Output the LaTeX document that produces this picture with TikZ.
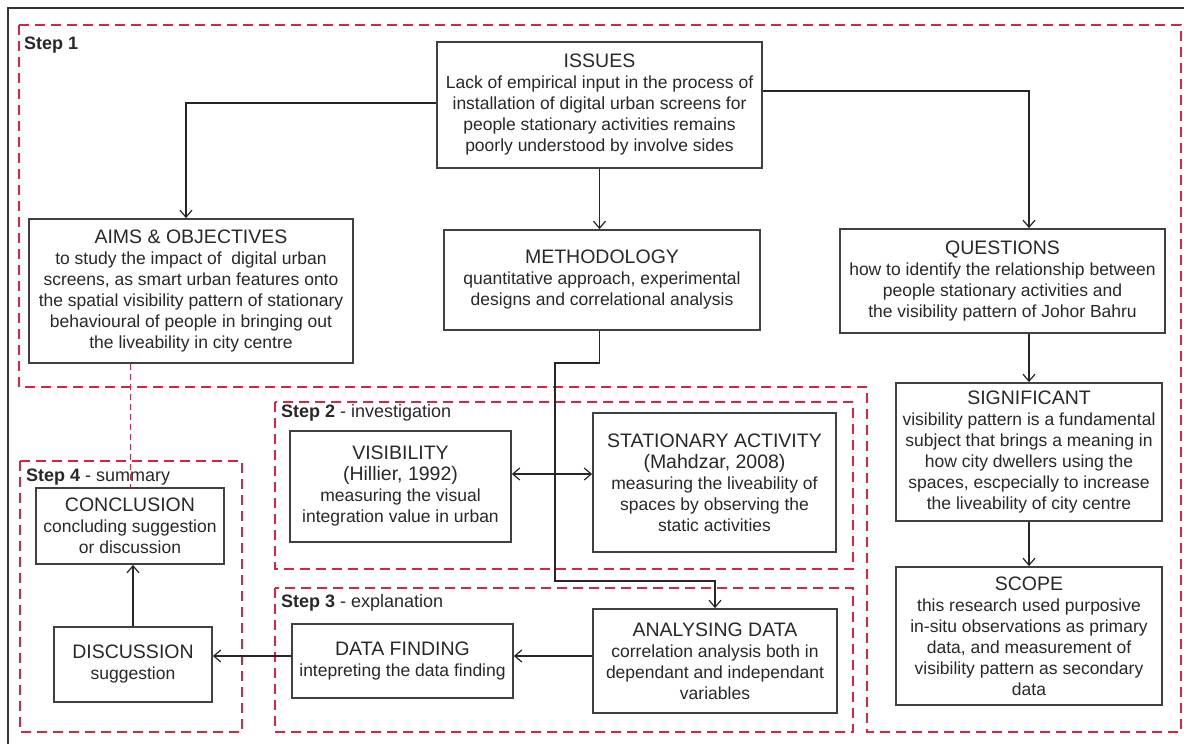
\documentclass[tikz,border=0pt]{standalone}
\usepackage{fontspec}
\setmainfont{Liberation Sans}
\usetikzlibrary{arrows.meta}
\definecolor{stepred}{RGB}{216,38,62}
\definecolor{txtgray}{RGB}{40,40,40}
\newcommand{\ttl}[1]{{\fontsize{19.5}{22}\selectfont #1}}

\begin{document}
\begin{tikzpicture}[x=1pt,y=-1pt,
  box/.style={rectangle,draw=black!75,line width=1.8pt,fill=white,align=center,inner sep=0pt,text=txtgray,font=\fontsize{17.5}{21}\selectfont},
  stepreg/.style={draw=stepred,line width=2.4pt,dash pattern=on 10pt off 6pt},
  steplab/.style={anchor=west,inner sep=0pt,text=txtgray,font=\fontsize{18}{21}\selectfont},
  arr/.style={-{Straight Barb[length=7pt,width=12pt]},line width=1.2pt,draw=black!85},
  link/.style={draw=stepred,line width=1pt,dash pattern=on 6pt off 4pt}]

  \path[use as bounding box,fill=white] (0,0) rectangle (1184,744) ;
  \draw[line width=1.5pt,black!80] (8,750) -- (8,8) -- (1190,8) ;

  % step regions
  \draw[stepreg] (19,25) -- (1181,25) -- (1181,732) -- (867,732) -- (867,387) -- (19,387) -- cycle ;
  \draw[stepreg] (275,402) rectangle (853,569) ;
  \draw[stepreg] (275,588) rectangle (853,732) ;
  \draw[stepreg] (20,461) rectangle (242,732) ;

  \node[steplab] at ( 24, 45) (lab1) {\textbf{Step 1}} ;
  \node[steplab] at (281,413) (lab2) {\textbf{Step 2} - investigation} ;
  \node[steplab] at (281,603) (lab3) {\textbf{Step 3} - explanation} ;
  \node[steplab] at ( 26,477) (lab4) {\textbf{Step 4} - summary} ;

  % boxes
  \node[box,minimum width=325pt,minimum height=126pt] at ( 599.5,105) (issues)
    {\ttl{ISSUES}\\Lack of empirical input in the process of\\installation of digital urban screens for\\people stationary activities remains\\poorly understood by involve sides} ;
  \node[box,minimum width=324pt,minimum height=144pt] at ( 191,291) (aims)
    {\ttl{AIMS \& OBJECTIVES}\\to study the impact of\ \ digital urban\\screens, as smart urban features onto\\the spatial visibility pattern of stationary\\behavioural of people in bringing out\\the liveability in city centre} ;
  \node[box,minimum width=316pt,minimum height=100pt] at ( 602,280) (method)
    {\ttl{METHODOLOGY}\\quantitative approach, experimental\\designs and correlational analysis} ;
  \node[box,minimum width=325pt,minimum height=104pt] at (1002.5,281) (questions)
    {\ttl{QUESTIONS}\\how to identify the relationship between\\people stationary activities and\\the visibility pattern of Johor Bahru} ;
  \node[box,minimum width=266pt,minimum height=138pt] at (1029,452) (signif)
    {\ttl{SIGNIFICANT}\\visibility pattern is a fundamental\\subject that brings a meaning in\\how city dwellers using the\\spaces, escpecially to increase\\the liveability of city centre} ;
  \node[box,minimum width=266pt,minimum height=138pt] at (1029,636) (scope)
    {\ttl{SCOPE}\\this research used purposive\\in-situ observations as primary\\data, and measurement of\\visibility pattern as secondary\\data} ;
  \node[box,minimum width=221pt,minimum height=111pt] at ( 400.5,486.5) (visib)
    {\ttl{VISIBILITY}\\\ttl{(Hillier, 1992)}\\measuring the visual\\integration value in urban} ;
  \node[box,minimum width=243pt,minimum height=139pt] at ( 714.5,482.5) (stat)
    {\ttl{STATIONARY ACTIVITY}\\\ttl{(Mahdzar, 2008)}\\measuring the liveability of\\spaces by observing the\\static activities} ;
  \node[box,minimum width=244pt,minimum height=104pt] at ( 715,661) (analys)
    {\ttl{ANALYSING DATA}\\correlation analysis both in\\dependant and independant\\variables} ;
  \node[box,minimum width=221pt,minimum height=74pt] at ( 402.5,661) (datafind)
    {\ttl{DATA FINDING}\\intepreting the data finding} ;
  \node[box,minimum width=158pt,minimum height=75pt] at ( 133,664.5) (discuss)
    {\ttl{DISCUSSION}\\suggestion} ;
  \node[box,minimum width=188pt,minimum height=76pt] at ( 130,526) (concl)
    {\ttl{CONCLUSION}\\concluding suggestion\\or discussion} ;

  \coordinate (m1) at (555,363) ;
  \coordinate (m2) at (555,581) ;

  % connectors
  \draw[link] (concl.north |- aims.south) -- (concl.north) ;
  \draw[arr] ([yshift=2pt]issues.west) -| ([xshift=-5pt]aims.north) ;
  \draw[arr] ([yshift=14pt]issues.east) -| (questions.north -| signif.north) ;
  \draw[arr] (issues.south) -- (issues.south |- method.north) ;
  \draw[arr] (questions.south -| signif.north) -- (signif.north) ;
  \draw[arr] (signif.south) -- (scope.north) ;
  \draw[arr] (issues.south |- method.south) |- (m1) -- (m2) -| (analys.north) ;
  \draw[arr,{Straight Barb[length=7pt,width=12pt]}-{Straight Barb[length=7pt,width=12pt]}] ([yshift=12.5pt]visib.east) -- ([yshift=12.5pt]visib.east -| stat.west) ;
  \draw[arr] ([yshift=5pt]analys.west) -- ([yshift=5pt]analys.west -| datafind.east) ;
  \draw[arr] ([yshift=5pt]datafind.west) -- ([yshift=5pt]datafind.west -| discuss.east) ;
  \draw[arr] (discuss.north) -- (discuss.north |- concl.south) ;

\end{tikzpicture}
\end{document}
